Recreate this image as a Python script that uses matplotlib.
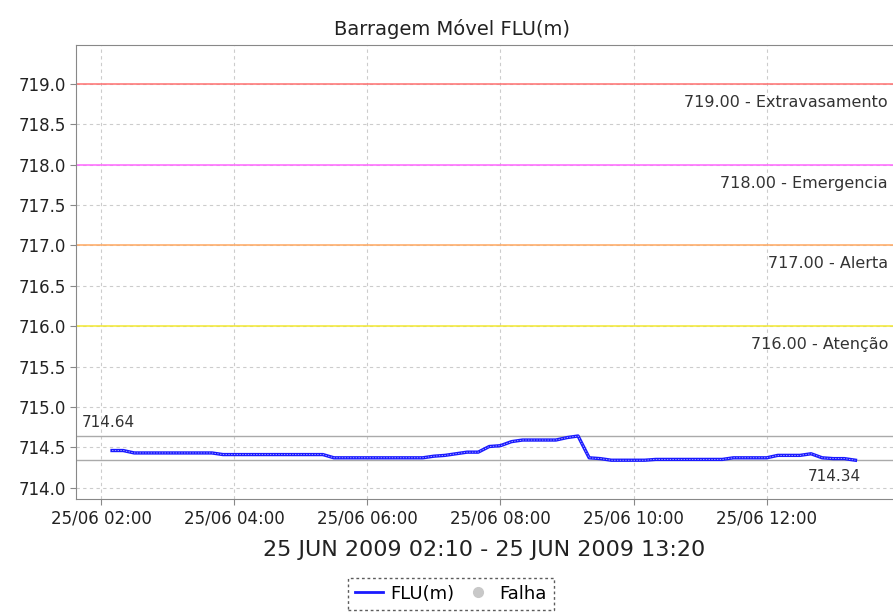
import numpy as np
import pandas as pd
import matplotlib
matplotlib.use("Agg")
import matplotlib.pyplot as plt
import matplotlib.dates as mdates
from matplotlib.lines import Line2D

# leituras a cada 10 min, 25/06/2009 02:10 - 13:20
inicio = "2009-06-25 02:10"
nivel = [
    714.46, 714.46, 714.43, 714.43, 714.43, 714.43, 714.43, 714.43, 714.43, 714.43,
    714.41, 714.41, 714.41, 714.41, 714.41, 714.41, 714.41, 714.41, 714.41, 714.41,
    714.37, 714.37, 714.37, 714.37, 714.37, 714.37, 714.37, 714.37, 714.37,
    714.39, 714.40, 714.42, 714.44, 714.44, 714.51, 714.52,
    714.57, 714.59, 714.59, 714.59, 714.59, 714.62, 714.64,
    714.37, 714.36, 714.34, 714.34, 714.34, 714.34,
    714.35, 714.35, 714.35, 714.35, 714.35, 714.35, 714.35,
    714.37, 714.37, 714.37, 714.37,
    714.40, 714.40, 714.40, 714.42,
    714.37, 714.36, 714.36, 714.34,
]
horas = pd.date_range(inicio, periods=len(nivel), freq="10min")

cotas = [719.0, 718.0, 717.0, 716.0]
cotas_nomes = ["Extravasamento", "Emergencia", "Alerta", "Atenção"]
cotas_cores = ["#ff7070", "#ff66ff", "#ffa860", "#f2e830"]

maximo = max(nivel)
minimo = min(nivel)

fig = plt.figure(figsize=(8.93, 6.14), dpi=100)
ax = fig.add_axes([0.0851, 0.1873, 0.93, 0.7394])

cinza = "#888888"
for lado in ["left", "bottom", "top"]:
    ax.spines[lado].set_color(cinza)
ax.spines["right"].set_visible(False)

ax.grid(True, color="#cccccc", linestyle=(0, (3, 3)), linewidth=0.8)

# linhas de cota
for valor, nome, cor in zip(cotas, cotas_nomes, cotas_cores):
    ax.axhline(valor, color=cor, linewidth=1.1, zorder=2)
    ax.annotate(f"{valor:.2f} - {nome}", xy=(888, valor), xycoords=("figure pixels", "data"),
                xytext=(0, -8), textcoords="offset points", ha="right", va="top",
                fontsize=11.5, color="#333333")

# maximo e minimo
ax.axhline(maximo, color="#aaaaaa", linewidth=1, zorder=2)
ax.axhline(minimo, color="#aaaaaa", linewidth=1, zorder=2)
ax.annotate(f"{maximo:.2f}", xy=(0.007, maximo), xycoords=("axes fraction", "data"),
            xytext=(0, 4), textcoords="offset points", ha="left", va="bottom",
            fontsize=11, color="#333333")
ax.annotate(f"{minimo:.2f}", xy=(861, minimo), xycoords=("figure pixels", "data"),
            xytext=(0, -6), textcoords="offset points", ha="right", va="top",
            fontsize=11, color="#333333")

ax.plot(horas, nivel, color="#1a1aff", linewidth=2.4, zorder=4)
ax.plot(horas, nivel, color="white", linewidth=0.5, linestyle=(0, (2, 2)), alpha=0.8, zorder=5)

ax.set_ylim(713.86, 719.48)
ax.set_yticks(np.arange(714.0, 719.01, 0.5))
ax.yaxis.set_major_formatter(plt.FormatStrFormatter("%.1f"))
ax.set_xlim(pd.Timestamp("2009-06-25 01:37:30"), pd.Timestamp("2009-06-25 14:06"))
ax.xaxis.set_major_locator(mdates.HourLocator(byhour=range(2, 13, 2)))
ax.xaxis.set_major_formatter(mdates.DateFormatter("%d/%m %H:%M"))
ax.tick_params(axis="both", labelsize=12, colors=cinza, labelcolor="#222222", length=4)

fig.text(0.506, 0.953, "Barragem Móvel FLU(m)", ha="center", va="center", fontsize=14, color="#222222")
fig.text(0.542, 0.105, "25 JUN 2009 02:10 - 25 JUN 2009 13:20", ha="center", va="center",
         fontsize=16, color="#222222")

itens = [
    Line2D([], [], color="#1a1aff", linewidth=2),
    Line2D([], [], color="#c8c8c8", marker="o", linestyle="none", markersize=7),
]
leg = fig.legend(itens, ["FLU(m)", "Falha"], loc="center", bbox_to_anchor=(0.505, 0.033),
                 ncol=2, fontsize=13, frameon=True, fancybox=False, handlelength=1.5,
                 handletextpad=0.4, columnspacing=0.6, borderpad=0.4)
leg.get_frame().set_edgecolor("#333333")
leg.get_frame().set_linestyle((0, (2, 2)))
leg.get_frame().set_linewidth(1)

fig.savefig("out.png", dpi=100)
